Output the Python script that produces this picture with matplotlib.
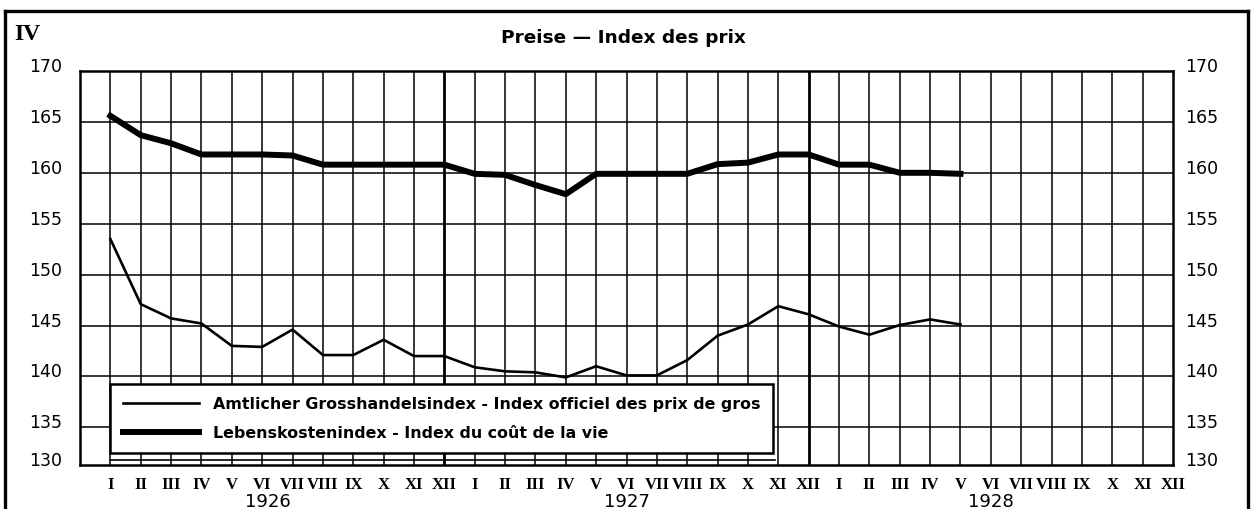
import numpy as np
import matplotlib
matplotlib.use("Agg")
from matplotlib import pyplot as plt
from matplotlib.lines import Line2D
import matplotlib.transforms as mtransforms

# Monatswerte 1926 - V 1928
months = ["I", "II", "III", "IV", "V", "VI", "VII", "VIII", "IX", "X", "XI", "XII"] * 3
years = ["1926", "1927", "1928"]
gross = [153.5, 147.1, 145.7, 145.2, 143.0, 142.9, 144.6, 142.1, 142.1, 143.6, 142.0, 142.0,
         140.9, 140.5, 140.4, 139.9, 141.0, 140.1, 140.1, 141.6, 144.0, 145.1, 146.9, 146.1,
         144.9, 144.1, 145.05, 145.6, 145.1]
leben = [165.6, 163.7, 162.9, 161.8, 161.8, 161.8, 161.7, 160.8, 160.8, 160.8, 160.8, 160.8,
         159.9, 159.8, 158.8, 157.9, 159.9, 159.9, 159.9, 159.9, 160.85, 161.0, 161.8, 161.8,
         160.8, 160.8, 160.0, 160.0, 159.9]
yvals = [130, 135, 140, 145, 150, 155, 160, 165, 170]
lab_gross = "Amtlicher Grosshandelsindex - Index officiel des prix de gros"
lab_leben = "Lebenskostenindex - Index du coût de la vie"

W, H = 1255, 510
fig = plt.figure(figsize=(W / 100, H / 100), dpi=100)
ax = fig.add_axes([80 / W, 1 - 466 / H, (1173 - 80) / W, (466 - 72) / H])
ybot = 131.3
ax.set_xlim(-1, len(months) - 1)
ax.set_ylim(ybot, 170)

# Gitter
x = np.arange(len(months))
for i in x[:-1]:
    lw = 2.0 if months[i] == "XII" else 1.1
    ax.axvline(i, color="black", lw=lw, zorder=1)
for v in yvals:
    if ybot < v < 170:
        ax.axhline(v, color="black", lw=1.1, zorder=1)
for s in ax.spines.values():
    s.set_linewidth(1.8)

ax.plot(x[:len(gross)], gross, color="black", lw=1.9, zorder=3, label=lab_gross,
        solid_joinstyle="round")
ax.plot(x[:len(leben)], leben, color="black", lw=4.3, zorder=3, label=lab_leben,
        solid_joinstyle="round")

leg = ax.legend(loc="lower left", bbox_to_anchor=(30 / 1093, 12 / 394), borderaxespad=0,
                fancybox=False, framealpha=1, edgecolor="black", handlelength=4.8,
                handletextpad=0.9, borderpad=0.8, labelspacing=0.88,
                prop={"family": "DejaVu Sans", "weight": "bold", "size": 11.4})
leg.get_frame().set_linewidth(1.8)
leg.set_zorder(5)
ax.plot([30 / 1093, 695 / 1093], [5 / 394, 5 / 394], transform=ax.transAxes,
        color="black", lw=1.2, zorder=4)

# Achsenbeschriftung
ax.set_xticks(x)
ax.set_xticklabels(months, family="Liberation Serif", weight="bold", fontsize=12)
ax.tick_params(axis="x", length=0, pad=8)
ax.set_yticks([])
up = mtransforms.ScaledTranslation(0, 5 / 100, fig.dpi_scale_trans)
for v in yvals:
    yy = max(v, ybot)
    ax.text(-18 / 1093, yy, str(v), ha="right", va="center", fontsize=12.5,
            transform=ax.get_yaxis_transform() + up)
    ax.text(1 + 12 / 1093, yy, str(v), ha="left", va="center", fontsize=12.5,
            transform=ax.get_yaxis_transform() + up)
for k, yr in enumerate(years):
    ax.text(5.2 + 12 * k - (0.2 if k else 0), -36 / 394, yr, ha="center", va="center",
            fontsize=13, transform=ax.get_xaxis_transform())

fig.text(623 / W, 1 - 38 / H, "Preise — Index des prix", ha="center", va="center",
         fontsize=13.3, weight="bold")
fig.text(14 / W, 1 - 35 / H, "IV", ha="left", va="center", fontsize=17,
         family="Liberation Serif", weight="bold")

# Rahmen
fig.add_artist(Line2D([5 / W, 5 / W], [0, 1 - 12 / H], color="black", lw=2.4))
fig.add_artist(Line2D([1248 / W, 1248 / W], [0, 1 - 12 / H], color="black", lw=2.4))
fig.add_artist(Line2D([5 / W, 1248 / W], [1 - 12 / H, 1 - 12 / H], color="black", lw=2.4))

fig.savefig("out.png", dpi=100)
